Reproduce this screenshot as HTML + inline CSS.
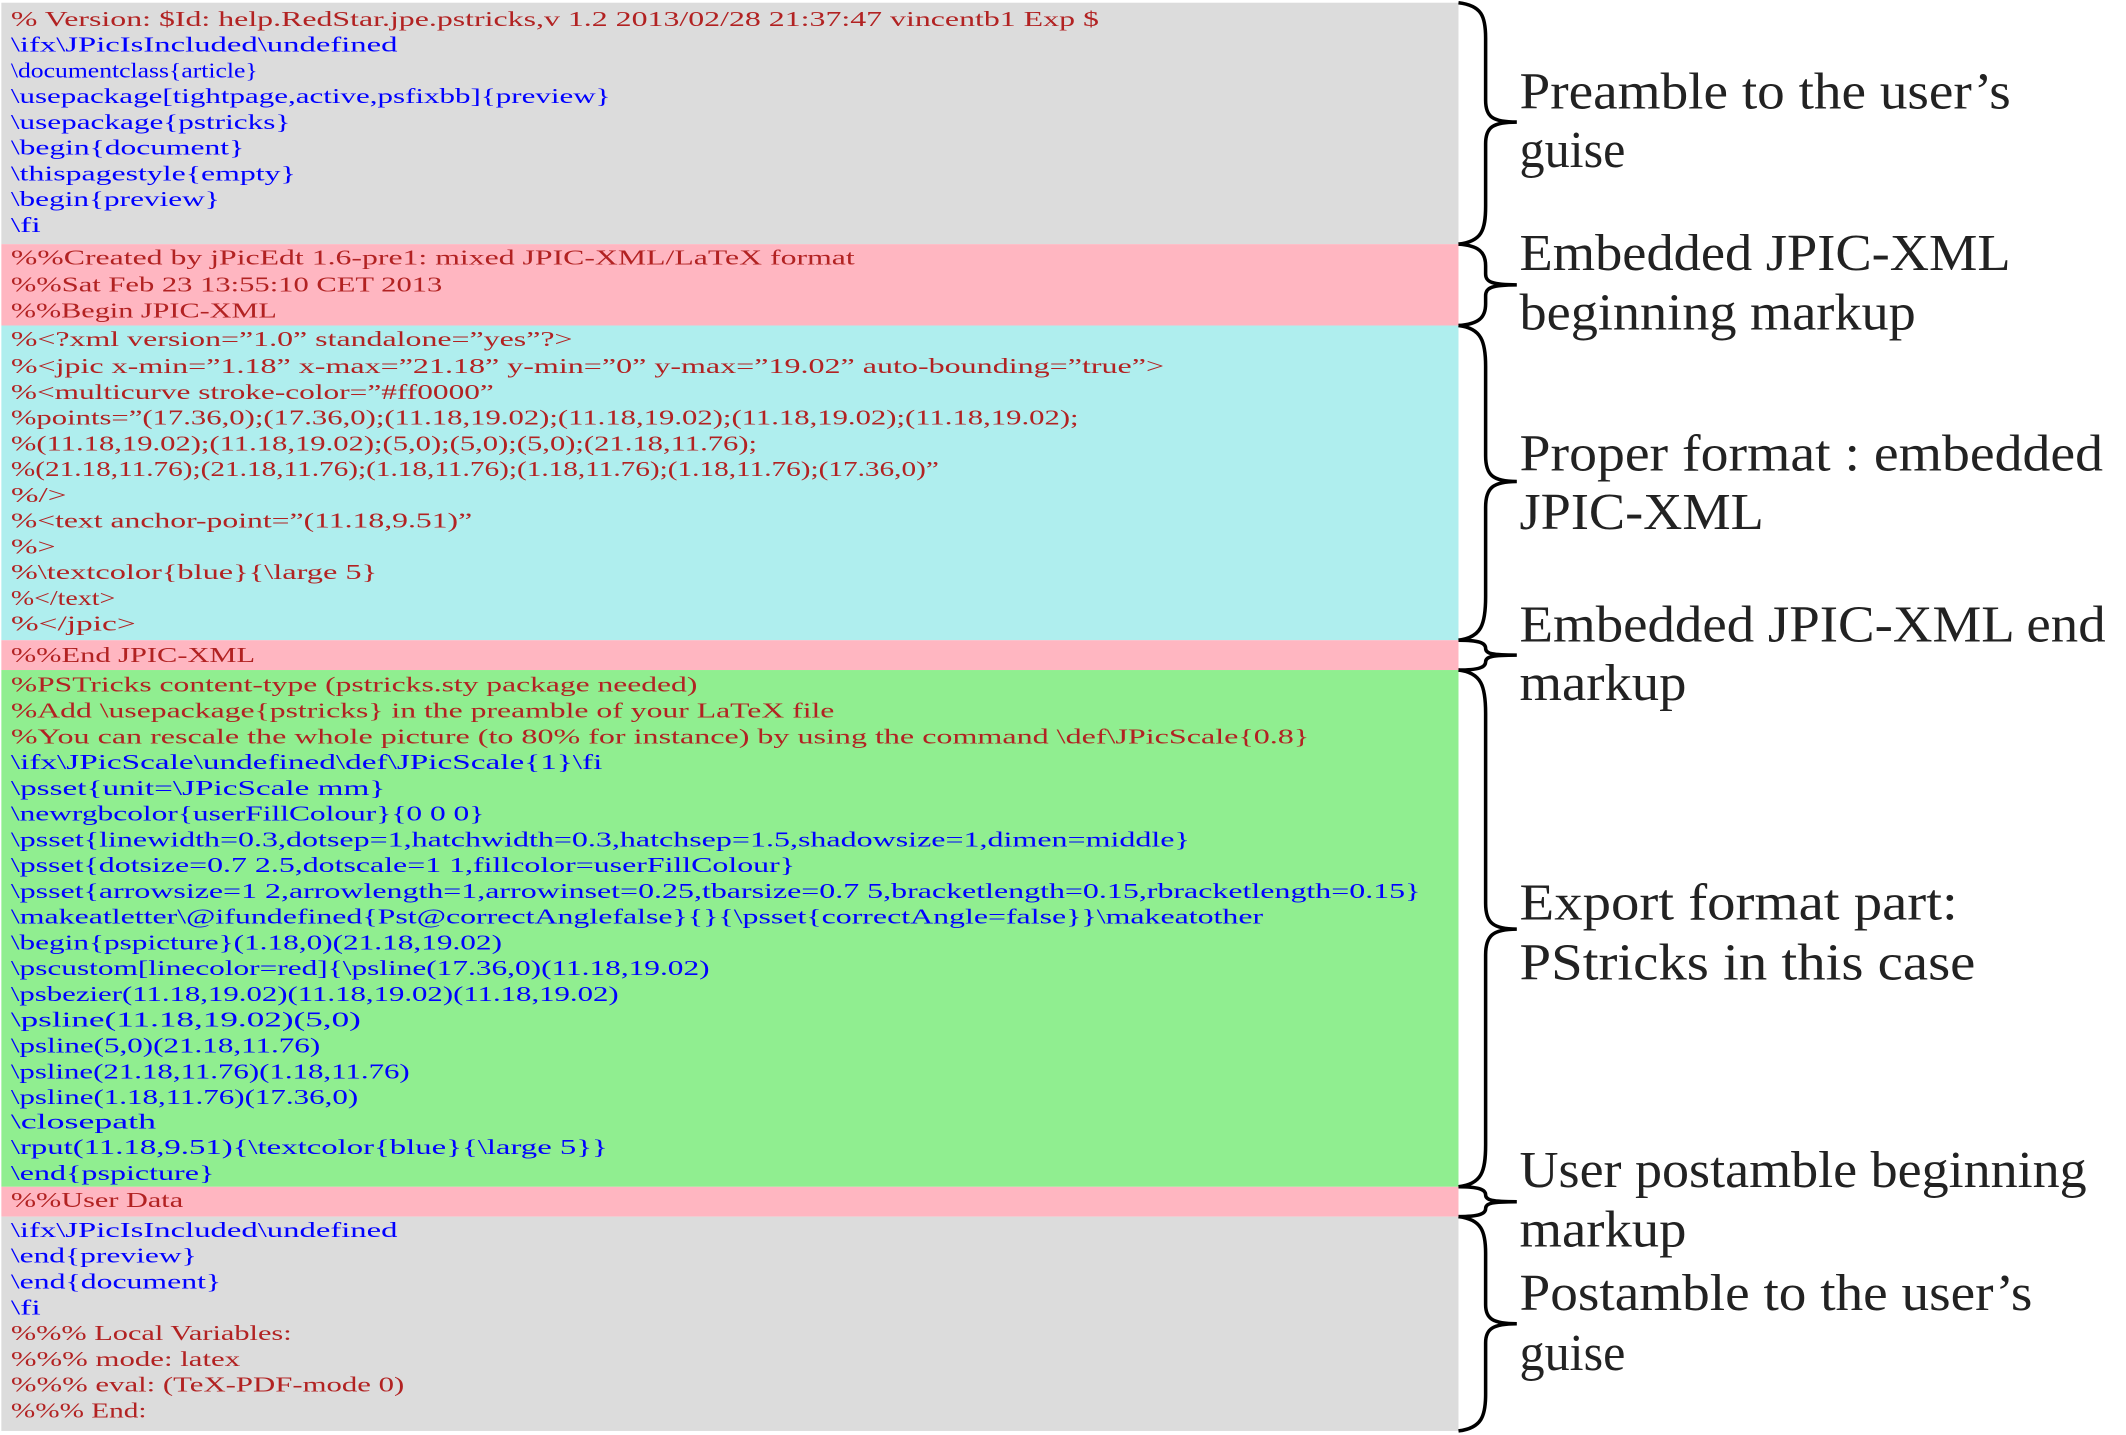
<!DOCTYPE html>
<html><head><meta charset="utf-8"><style>
html,body{margin:0;padding:0;background:#fff;}
svg{display:block;}
.c{font-family:"Liberation Serif",serif;font-size:15.5px;}
.r{fill:#b22222;} .b{fill:#0000ff;}
.l{font-family:"Liberation Serif",serif;font-size:38px;fill:#222;}
</style></head><body>
<svg width="2126" height="1435" viewBox="0 0 1567 1058" preserveAspectRatio="none" xmlns="http://www.w3.org/2000/svg">
<rect x="0" y="0" width="1567" height="1058" fill="#fff"/>
<rect x="1" y="2" width="1074" height="178" fill="#dcdcdc"/>
<rect x="1" y="180" width="1074" height="60" fill="#ffb6c1"/>
<rect x="1" y="240" width="1074" height="232" fill="#afeeee"/>
<rect x="1" y="472" width="1074" height="22" fill="#ffb6c1"/>
<rect x="1" y="494" width="1074" height="381" fill="#90ee90"/>
<rect x="1" y="875" width="1074" height="22" fill="#ffb6c1"/>
<rect x="1" y="897" width="1074" height="158" fill="#dcdcdc"/>
<g class="c">
<text class="r" x="8" y="19" textLength="802" lengthAdjust="spacingAndGlyphs">% Version: $Id: help.RedStar.jpe.pstricks,v 1.2 2013/02/28 21:37:47 vincentb1 Exp $</text>
<text class="b" x="8" y="38" textLength="285" lengthAdjust="spacingAndGlyphs">\ifx\JPicIsIncluded\undefined</text>
<text class="b" x="8" y="57" textLength="182" lengthAdjust="spacingAndGlyphs">\documentclass{article}</text>
<text class="b" x="8" y="76" textLength="442" lengthAdjust="spacingAndGlyphs">\usepackage[tightpage,active,psfixbb]{preview}</text>
<text class="b" x="8" y="95" textLength="206" lengthAdjust="spacingAndGlyphs">\usepackage{pstricks}</text>
<text class="b" x="8" y="114" textLength="172" lengthAdjust="spacingAndGlyphs">\begin{document}</text>
<text class="b" x="8" y="133" textLength="210" lengthAdjust="spacingAndGlyphs">\thispagestyle{empty}</text>
<text class="b" x="8" y="152" textLength="154" lengthAdjust="spacingAndGlyphs">\begin{preview}</text>
<text class="b" x="8" y="171" textLength="22" lengthAdjust="spacingAndGlyphs">\fi</text>
<text class="r" x="8" y="195" textLength="622" lengthAdjust="spacingAndGlyphs">%%Created by jPicEdt 1.6-pre1: mixed JPIC-XML/LaTeX format</text>
<text class="r" x="8" y="215" textLength="318" lengthAdjust="spacingAndGlyphs">%%Sat Feb 23 13:55:10 CET 2013</text>
<text class="r" x="8" y="234" textLength="196" lengthAdjust="spacingAndGlyphs">%%Begin JPIC-XML</text>
<text class="r" x="8" y="255" textLength="414" lengthAdjust="spacingAndGlyphs">%&lt;?xml version=”1.0” standalone=”yes”?&gt;</text>
<text class="r" x="8" y="275" textLength="850" lengthAdjust="spacingAndGlyphs">%&lt;jpic x-min=”1.18” x-max=”21.18” y-min=”0” y-max=”19.02” auto-bounding=”true”&gt;</text>
<text class="r" x="8" y="294" textLength="356" lengthAdjust="spacingAndGlyphs">%&lt;multicurve stroke-color=”#ff0000”</text>
<text class="r" x="8" y="313" textLength="787" lengthAdjust="spacingAndGlyphs">%points=”(17.36,0);(17.36,0);(11.18,19.02);(11.18,19.02);(11.18,19.02);(11.18,19.02);</text>
<text class="r" x="8" y="332" textLength="550" lengthAdjust="spacingAndGlyphs">%(11.18,19.02);(11.18,19.02);(5,0);(5,0);(5,0);(21.18,11.76);</text>
<text class="r" x="8" y="351" textLength="684" lengthAdjust="spacingAndGlyphs">%(21.18,11.76);(21.18,11.76);(1.18,11.76);(1.18,11.76);(1.18,11.76);(17.36,0)”</text>
<text class="r" x="8" y="370" textLength="41" lengthAdjust="spacingAndGlyphs">%/&gt;</text>
<text class="r" x="8" y="389" textLength="340" lengthAdjust="spacingAndGlyphs">%&lt;text anchor-point=”(11.18,9.51)”</text>
<text class="r" x="8" y="408" textLength="33" lengthAdjust="spacingAndGlyphs">%&gt;</text>
<text class="r" x="8" y="427" textLength="270" lengthAdjust="spacingAndGlyphs">%\textcolor{blue}{\large 5}</text>
<text class="r" x="8" y="446" textLength="77" lengthAdjust="spacingAndGlyphs">%&lt;/text&gt;</text>
<text class="r" x="8" y="465" textLength="92" lengthAdjust="spacingAndGlyphs">%&lt;/jpic&gt;</text>
<text class="r" x="8" y="488" textLength="180" lengthAdjust="spacingAndGlyphs">%%End JPIC-XML</text>
<text class="r" x="8" y="510" textLength="506" lengthAdjust="spacingAndGlyphs">%PSTricks content-type (pstricks.sty package needed)</text>
<text class="r" x="8" y="529" textLength="607" lengthAdjust="spacingAndGlyphs">%Add \usepackage{pstricks} in the preamble of your LaTeX file</text>
<text class="r" x="8" y="548" textLength="957" lengthAdjust="spacingAndGlyphs">%You can rescale the whole picture (to 80% for instance) by using the command \def\JPicScale{0.8}</text>
<text class="b" x="8" y="567" textLength="436" lengthAdjust="spacingAndGlyphs">\ifx\JPicScale\undefined\def\JPicScale{1}\fi</text>
<text class="b" x="8" y="586" textLength="276" lengthAdjust="spacingAndGlyphs">\psset{unit=\JPicScale mm}</text>
<text class="b" x="8" y="605" textLength="349" lengthAdjust="spacingAndGlyphs">\newrgbcolor{userFillColour}{0 0 0}</text>
<text class="b" x="8" y="624" textLength="869" lengthAdjust="spacingAndGlyphs">\psset{linewidth=0.3,dotsep=1,hatchwidth=0.3,hatchsep=1.5,shadowsize=1,dimen=middle}</text>
<text class="b" x="8" y="643" textLength="578" lengthAdjust="spacingAndGlyphs">\psset{dotsize=0.7 2.5,dotscale=1 1,fillcolor=userFillColour}</text>
<text class="b" x="8" y="662" textLength="1039" lengthAdjust="spacingAndGlyphs">\psset{arrowsize=1 2,arrowlength=1,arrowinset=0.25,tbarsize=0.7 5,bracketlength=0.15,rbracketlength=0.15}</text>
<text class="b" x="8" y="681" textLength="923" lengthAdjust="spacingAndGlyphs">\makeatletter\@ifundefined{Pst@correctAnglefalse}{}{\psset{correctAngle=false}}\makeatother</text>
<text class="b" x="8" y="700" textLength="362" lengthAdjust="spacingAndGlyphs">\begin{pspicture}(1.18,0)(21.18,19.02)</text>
<text class="b" x="8" y="719" textLength="515" lengthAdjust="spacingAndGlyphs">\pscustom[linecolor=red]{\psline(17.36,0)(11.18,19.02)</text>
<text class="b" x="8" y="738" textLength="448" lengthAdjust="spacingAndGlyphs">\psbezier(11.18,19.02)(11.18,19.02)(11.18,19.02)</text>
<text class="b" x="8" y="757" textLength="258" lengthAdjust="spacingAndGlyphs">\psline(11.18,19.02)(5,0)</text>
<text class="b" x="8" y="776" textLength="228" lengthAdjust="spacingAndGlyphs">\psline(5,0)(21.18,11.76)</text>
<text class="b" x="8" y="795" textLength="294" lengthAdjust="spacingAndGlyphs">\psline(21.18,11.76)(1.18,11.76)</text>
<text class="b" x="8" y="814" textLength="256" lengthAdjust="spacingAndGlyphs">\psline(1.18,11.76)(17.36,0)</text>
<text class="b" x="8" y="832" textLength="107" lengthAdjust="spacingAndGlyphs">\closepath</text>
<text class="b" x="8" y="851" textLength="440" lengthAdjust="spacingAndGlyphs">\rput(11.18,9.51){\textcolor{blue}{\large 5}}</text>
<text class="b" x="8" y="870" textLength="150" lengthAdjust="spacingAndGlyphs">\end{pspicture}</text>
<text class="r" x="8" y="890" textLength="127" lengthAdjust="spacingAndGlyphs">%%User Data</text>
<text class="b" x="8" y="912" textLength="285" lengthAdjust="spacingAndGlyphs">\ifx\JPicIsIncluded\undefined</text>
<text class="b" x="8" y="931" textLength="137" lengthAdjust="spacingAndGlyphs">\end{preview}</text>
<text class="b" x="8" y="950" textLength="155" lengthAdjust="spacingAndGlyphs">\end{document}</text>
<text class="b" x="8" y="969" textLength="22" lengthAdjust="spacingAndGlyphs">\fi</text>
<text class="r" x="8" y="988" textLength="207" lengthAdjust="spacingAndGlyphs">%%% Local Variables:</text>
<text class="r" x="8" y="1007" textLength="169" lengthAdjust="spacingAndGlyphs">%%% mode: latex</text>
<text class="r" x="8" y="1026" textLength="290" lengthAdjust="spacingAndGlyphs">%%% eval: (TeX-PDF-mode 0)</text>
<text class="r" x="8" y="1045" textLength="100" lengthAdjust="spacingAndGlyphs">%%% End:</text>
</g>
<g fill="none" stroke="#000" stroke-width="2.6">
<path d="M1075,2 C1092,4 1095,12 1095,28 L1095,74 C1095,86 1100,90 1118,90 C1100,90 1095,94 1095,106 L1095,152 C1095,170 1092,178 1075,180"/>
<path d="M1075,180 C1090,181 1095,186 1095,196 L1095,202 C1095,208 1100,210 1118,210 C1100,210 1095,212 1095,218 L1095,224 C1095,234 1090,239 1075,240"/>
<path d="M1075,240 C1092,242 1095,252 1095,270 L1095,336 C1095,350 1100,355 1118,355 C1100,355 1095,360 1095,374 L1095,440 C1095,460 1092,470 1075,472"/>
<path d="M1075,472 C1090,472 1095,474 1095,478 C1095,482 1100,483 1118,483 C1100,483 1095,484 1095,488 C1095,492 1090,494 1075,494"/>
<path d="M1075,494 C1092,496 1095,506 1095,526 L1095,666 C1095,680 1100,685 1118,685 C1100,685 1095,690 1095,704 L1095,844 C1095,864 1092,873 1075,875"/>
<path d="M1075,875 C1090,875 1095,877 1095,881 C1095,885 1100,886 1118,886 C1100,886 1095,887 1095,891 C1095,895 1090,897 1075,897"/>
<path d="M1075,897 C1092,899 1095,908 1095,924 L1095,962 C1095,972 1100,976 1118,976 C1100,976 1095,980 1095,990 L1095,1028 C1095,1044 1092,1053 1075,1055"/>
</g>
<g class="l">
<text x="1120" y="80" textLength="362" lengthAdjust="spacingAndGlyphs">Preamble to the user’s</text>
<text x="1120" y="123" textLength="78" lengthAdjust="spacingAndGlyphs">guise</text>
<text x="1120" y="199" textLength="362" lengthAdjust="spacingAndGlyphs">Embedded JPIC-XML</text>
<text x="1120" y="243" textLength="292" lengthAdjust="spacingAndGlyphs">beginning markup</text>
<text x="1120" y="347" textLength="430" lengthAdjust="spacingAndGlyphs">Proper format : embedded</text>
<text x="1120" y="390" textLength="180" lengthAdjust="spacingAndGlyphs">JPIC-XML</text>
<text x="1120" y="473" textLength="432" lengthAdjust="spacingAndGlyphs">Embedded JPIC-XML end</text>
<text x="1120" y="516" textLength="123" lengthAdjust="spacingAndGlyphs">markup</text>
<text x="1120" y="678" textLength="323" lengthAdjust="spacingAndGlyphs">Export format part:</text>
<text x="1120" y="722" textLength="336" lengthAdjust="spacingAndGlyphs">PStricks in this case</text>
<text x="1120" y="875" textLength="418" lengthAdjust="spacingAndGlyphs">User postamble beginning</text>
<text x="1120" y="919" textLength="123" lengthAdjust="spacingAndGlyphs">markup</text>
<text x="1120" y="966" textLength="378" lengthAdjust="spacingAndGlyphs">Postamble to the user’s</text>
<text x="1120" y="1010" textLength="78" lengthAdjust="spacingAndGlyphs">guise</text>
</g>
</svg>
</body></html>
